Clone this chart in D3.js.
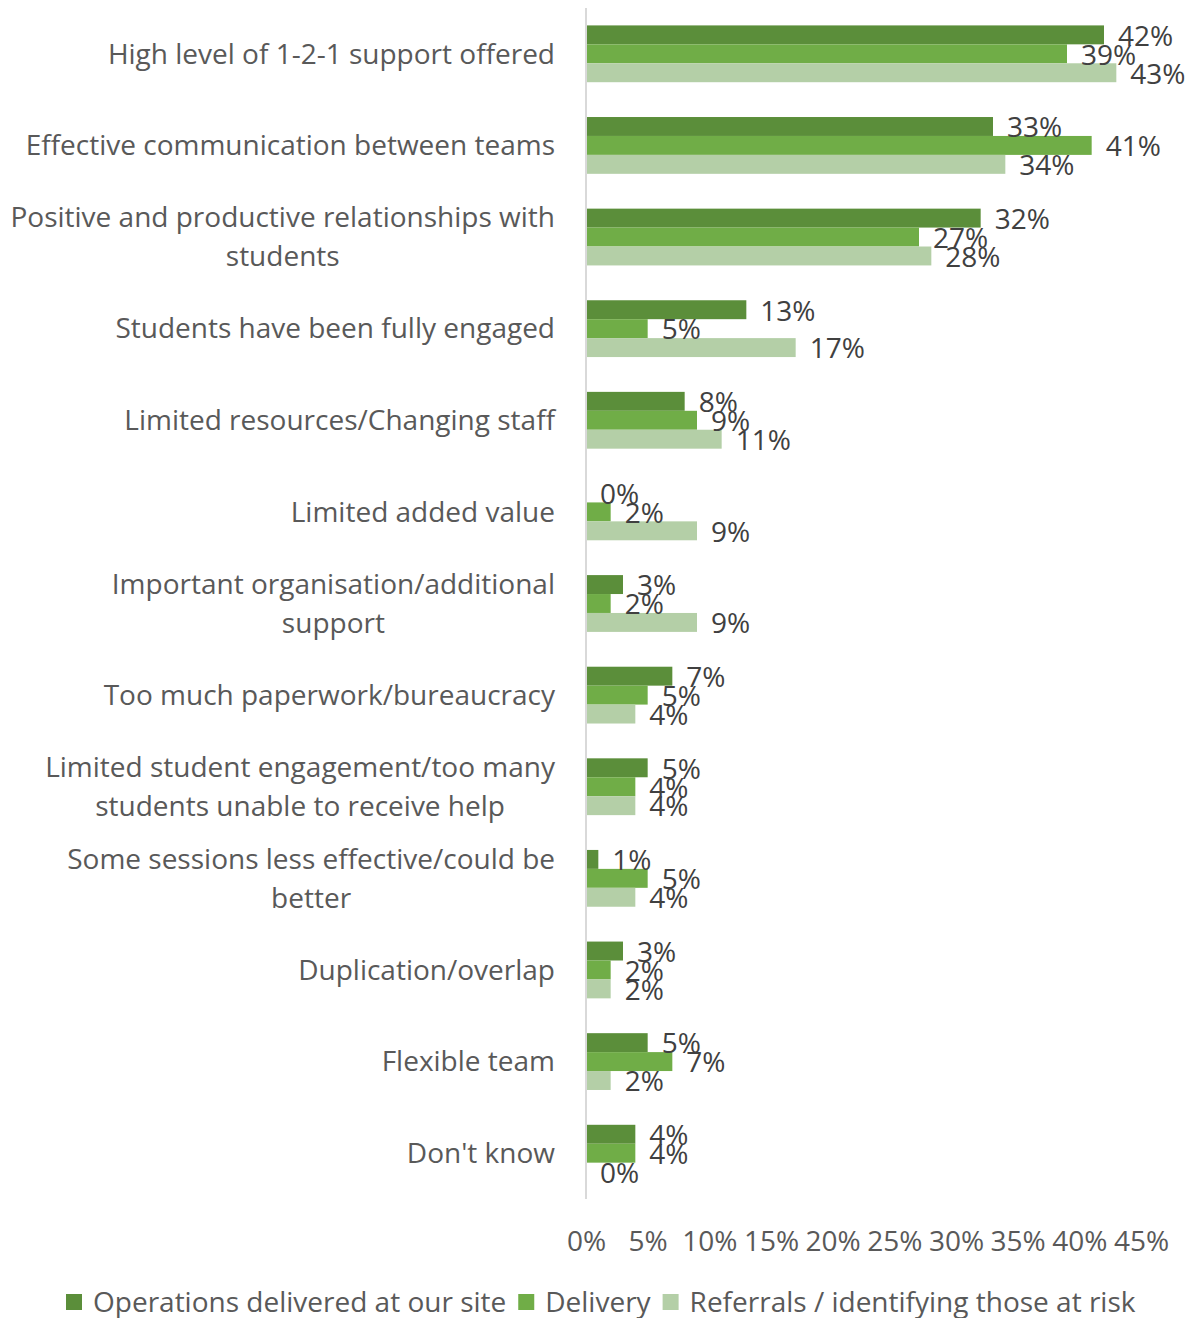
<!DOCTYPE html>
<html>
<head>
<meta charset="utf-8">
<script src="https://cdn.jsdelivr.net/npm/d3@7"></script>
<style>
  html, body { margin: 0; padding: 0; background: #fff; }
  svg { display: block; font-family: "Open Sans", Lato, sans-serif; }
</style>
</head>
<body>
<svg id="chart" width="1189" height="1318"></svg>
<script>
// Categories (line breaks mark where long labels wrap)
const categories = [
  "High level of 1-2-1 support offered",
  "Effective communication between teams",
  "Positive and productive relationships with\nstudents",
  "Students have been fully engaged",
  "Limited resources/Changing staff",
  "Limited added value",
  "Important organisation/additional\nsupport",
  "Too much paperwork/bureaucracy",
  "Limited student engagement/too many\nstudents unable to receive help",
  "Some sessions less effective/could be\nbetter",
  "Duplication/overlap",
  "Flexible team",
  "Don't know"
];

const seriesNames = [
  "Operations delivered at our site",
  "Delivery",
  "Referrals / identifying those at risk"
];

// Percentages per series, in category order
const operations = [42, 33, 32, 13, 8, 0, 3, 7, 5, 1, 3, 5, 4];
const delivery   = [39, 41, 27, 5, 9, 2, 2, 5, 4, 5, 2, 7, 4];
const referrals  = [43, 34, 28, 17, 11, 9, 9, 4, 4, 4, 2, 2, 0];

const tickValues = [0, 5, 10, 15, 20, 25, 30, 35, 40, 45];

const seriesValues = [operations, delivery, referrals];
const colors = ["#5b8e3a", "#70ad47", "#b4cfa7"];
const FONT = 28;

const svg = d3.select("#chart");

const x = d3.scaleLinear().domain([0, 45]).range([586, 1141]);
const y = d3.scaleBand()
  .domain(d3.range(categories.length))
  .range([8, 1199])
  .paddingInner(0.38)
  .paddingOuter(0.19);
const ySub = d3.scaleBand()
  .domain(d3.range(seriesNames.length))
  .range([0, y.bandwidth()]);

// Bars
const groups = svg.append("g").selectAll("g")
  .data(categories)
  .join("g")
  .attr("transform", (d, i) => `translate(0,${y(i)})`);

groups.selectAll("rect")
  .data((d, i) => seriesValues.map((vals, s) => ({ s, v: vals[i] })))
  .join("rect")
  .attr("x", x(0))
  .attr("y", d => ySub(d.s))
  .attr("width", d => x(d.v) - x(0))
  .attr("height", ySub.bandwidth())
  .attr("fill", d => colors[d.s]);

// Value labels
groups.selectAll("text.val")
  .data((d, i) => seriesValues.map((vals, s) => ({ s, v: vals[i] })))
  .join("text")
  .attr("class", "val")
  .attr("x", d => x(d.v) + 14)
  .attr("y", d => ySub(d.s) + ySub.bandwidth() / 2 + 1)
  .attr("dy", "0.35em")
  .attr("font-size", FONT)
  .attr("fill", "#404040")
  .text(d => d.v + "%");

// Vertical axis line
svg.append("line")
  .attr("x1", x(0)).attr("x2", x(0))
  .attr("y1", 8).attr("y2", 1199)
  .attr("stroke", "#d9d9d9")
  .attr("stroke-width", 2);

// Category labels: block right-aligned, wrapped lines centred on each other
const labelRight = 555;
const lineH = 39;
categories.forEach((cat, i) => {
  const lines = cat.split("\n");
  const g = svg.append("g");
  const cy = y(i) + y.bandwidth() / 2;
  const texts = lines.map((ln, k) => g.append("text")
    .attr("y", cy + (k - (lines.length - 1) / 2) * lineH)
    .attr("dy", "0.35em")
    .attr("font-size", FONT)
    .attr("fill", "#595959")
    .text(ln));
  const widths = texts.map(t => t.node().getComputedTextLength());
  const maxW = d3.max(widths);
  const centre = labelRight - maxW / 2;
  texts.forEach(t => t.attr("x", centre).attr("text-anchor", "middle"));
});

// X axis tick labels
const xAxis = d3.axisBottom(x)
  .tickValues(tickValues)
  .tickFormat(d => d + "%")
  .tickSize(0)
  .tickPadding(0);
const axisG = svg.append("g")
  .attr("transform", "translate(0,1231)")
  .call(xAxis);
axisG.select(".domain").remove();
axisG.selectAll("text")
  .attr("font-size", FONT)
  .attr("font-family", "'Open Sans', Lato, sans-serif")
  .attr("fill", "#595959");

// Legend
const legend = svg.append("g").attr("transform", "translate(0,1302)");
let lx = 66;
seriesNames.forEach((name, s) => {
  legend.append("rect")
    .attr("x", lx).attr("y", -8)
    .attr("width", 16).attr("height", 16)
    .attr("fill", colors[s]);
  const t = legend.append("text")
    .attr("x", lx + 27)
    .attr("y", 0)
    .attr("dy", "0.35em")
    .attr("font-size", FONT)
    .attr("fill", "#595959")
    .text(name);
  lx += 27 + t.node().getComputedTextLength() + 12;
});
</script>
</body>
</html>
